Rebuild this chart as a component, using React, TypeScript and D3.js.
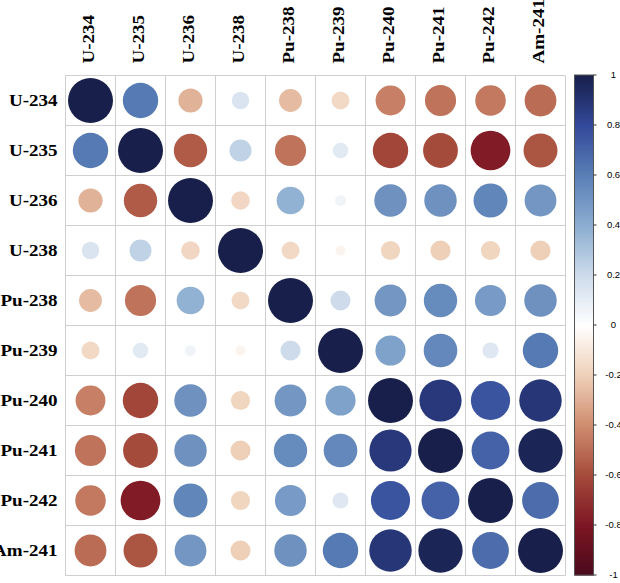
import React from "react";
import * as d3 from "d3";

const labels = ["U-234", "U-235", "U-236", "U-238", "Pu-238", "Pu-239", "Pu-240", "Pu-241", "Pu-242", "Am-241"];

const rowU234 = [1, 0.62, -0.29, 0.15, -0.26, -0.16, -0.44, -0.48, -0.46, -0.5];
const rowU235 = [0.62, 1, -0.55, 0.24, -0.48, 0.12, -0.62, -0.6, -0.78, -0.57];
const rowU236 = [-0.29, -0.55, 1, -0.17, 0.38, 0.06, 0.52, 0.52, 0.57, 0.5];
const rowU238 = [0.15, 0.24, -0.17, 1, -0.16, -0.05, -0.18, -0.2, -0.18, -0.2];
const rowPu238 = [-0.26, -0.48, 0.38, -0.16, 1, 0.2, 0.5, 0.55, 0.48, 0.52];
const rowPu239 = [-0.16, 0.12, 0.06, -0.05, 0.2, 1, 0.45, 0.56, 0.13, 0.62];
const rowPu240 = [-0.44, -0.62, 0.52, -0.18, 0.5, 0.45, 1, 0.88, 0.76, 0.89];
const rowPu241 = [-0.48, -0.6, 0.52, -0.2, 0.55, 0.56, 0.88, 1, 0.71, 0.97];
const rowPu242 = [-0.46, -0.78, 0.57, -0.18, 0.48, 0.13, 0.76, 0.71, 1, 0.67];
const rowAm241 = [-0.5, -0.57, 0.5, -0.2, 0.52, 0.62, 0.89, 0.97, 0.67, 1];

const matrix = [rowU234, rowU235, rowU236, rowU238, rowPu238, rowPu239, rowPu240, rowPu241, rowPu242, rowAm241];

const legendTicks = [1, 0.8, 0.6, 0.4, 0.2, 0, -0.2, -0.4, -0.6, -0.8, -1];

const colorDomain = [-1, -0.8, -0.6, -0.4, -0.2, 0, 0.2, 0.4, 0.6, 0.8, 1];
const colorRange = ["#4a0a1c", "#7d1624", "#a54b3b", "#cf8d6f", "#eed0b8", "#ffffff", "#cddbeb", "#8badd0", "#5a7fb6", "#33499a", "#171f4a"];

export default function App() {
  const gridLeft = 65.5;
  const gridTop = 75.5;
  const cell = 50;
  const n = labels.length;

  const x = d3.scaleBand<string>().domain(labels).range([gridLeft, gridLeft + n * cell]).padding(0);
  const y = d3.scaleBand<string>().domain(labels).range([gridTop, gridTop + n * cell]).padding(0);
  const color = d3.scaleLinear<string>().domain(colorDomain).range(colorRange).interpolate(d3.interpolateRgb).clamp(true);
  const radius = d3.scaleSqrt().domain([0, 1]).range([0, cell * 0.45]);

  const barX = 574.5;
  const barW = 19;
  const barTop = 75;
  const barBottom = 575;
  const ly = d3.scaleLinear().domain([-1, 1]).range([barBottom, barTop]);
  const steps = d3.range(200).map((i) => -1 + (i + 0.5) * (2 / 200));

  const sx = 1.12;

  return (
    <svg width={620} height={583} style={{ position: "absolute", left: 0, top: 0 }}>
      <rect x={0} y={0} width={620} height={583} fill="#ffffff" />
      {/* grid */}
      {d3.range(n + 1).map((i) => (
        <line key={"v" + i} x1={gridLeft + i * cell} x2={gridLeft + i * cell} y1={gridTop} y2={gridTop + n * cell} stroke="#cfcfcf" strokeWidth={1} />
      ))}
      {d3.range(n + 1).map((i) => (
        <line key={"h" + i} y1={gridTop + i * cell} y2={gridTop + i * cell} x1={gridLeft} x2={gridLeft + n * cell} stroke="#cfcfcf" strokeWidth={1} />
      ))}
      {/* circles */}
      {matrix.map((row, ri) =>
        row.map((v, ci) => (
          <circle
            key={ri + "-" + ci}
            cx={(x(labels[ci]) as number) + x.bandwidth() / 2}
            cy={(y(labels[ri]) as number) + y.bandwidth() / 2}
            r={radius(Math.abs(v))}
            fill={color(v)}
          />
        ))
      )}
      {/* row labels */}
      {labels.map((l) => (
        <text
          key={"r" + l}
          transform={`translate(57.5, ${(y(l) as number) + y.bandwidth() / 2 + 5.5}) scale(${sx},1)`}
          textAnchor="end"
          fontFamily="'Liberation Serif', 'Times New Roman', serif"
          fontWeight="bold"
          fontSize={17}
          fill="#000"
        >
          {l}
        </text>
      ))}
      {/* column labels */}
      {labels.map((l) => (
        <text
          key={"c" + l}
          transform={`translate(${(x(l) as number) + x.bandwidth() / 2 + 3.5}, 63.5) rotate(-90) scale(${sx},1)`}
          textAnchor="start"
          fontFamily="'Liberation Serif', 'Times New Roman', serif"
          fontWeight="bold"
          fontSize={17}
          fill="#000"
        >
          {l}
        </text>
      ))}
      {/* colorbar */}
      {steps.map((s, i) => (
        <rect key={"cb" + i} x={barX} y={ly(s + 1 / 200)} width={barW} height={(barBottom - barTop) / 200 + 0.6} fill={color(s)} />
      ))}
      <rect x={barX} y={barTop} width={barW} height={barBottom - barTop} fill="none" stroke="#555" strokeWidth={1} />
      {legendTicks.map((t) => (
        <g key={"t" + t}>
          <line x1={barX + barW} x2={barX + barW + 3} y1={ly(t)} y2={ly(t)} stroke="#333" strokeWidth={1} />
          <text x={613.5} y={ly(t)} dy="0.35em" textAnchor="middle" fontFamily="'Liberation Sans', Arial, sans-serif" fontSize={9.5} fill="#000">
            {String(t)}
          </text>
        </g>
      ))}
    </svg>
  );
}
